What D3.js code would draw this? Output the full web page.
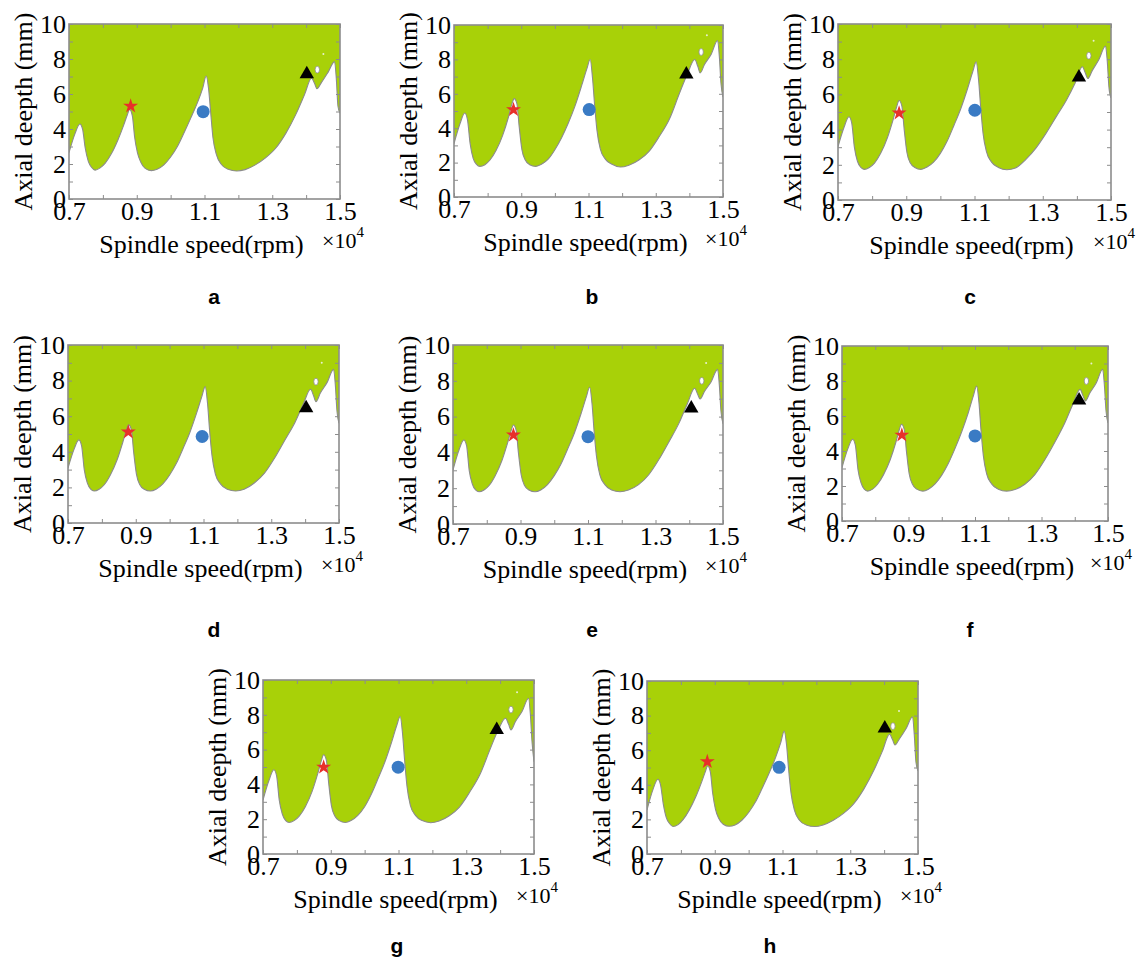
<!DOCTYPE html>
<html>
<head>
<meta charset="utf-8">
<script src="https://cdn.jsdelivr.net/npm/d3@7"></script>
<style>
body { margin: 0; background: #fff; }
</style>
</head>
<body>
<svg id="chart" width="1147" height="964"></svg>
<script>
// Spindle speed grid (x 10^4 rpm), shared by all panels
var speed = [0.700, 0.718, 0.732, 0.740, 0.748, 0.757, 0.767, 0.777, 0.792, 0.807,
             0.825, 0.845, 0.862, 0.872, 0.879, 0.887, 0.894, 0.902, 0.912, 0.925,
             0.943, 0.960, 0.980, 1.000, 1.020, 1.040, 1.060, 1.080, 1.095, 1.105,
             1.112, 1.118, 1.125, 1.135, 1.150, 1.170, 1.195, 1.220, 1.250, 1.280,
             1.310, 1.340, 1.370, 1.395, 1.416, 1.425, 1.432, 1.445, 1.465, 1.484,
             1.489, 1.494, 1.500];

// Stability limit (axial depth, mm)
var depthA = [2.65, 3.75, 4.29, 4.0, 2.9, 2.15, 1.8, 1.65, 1.78, 2.05, 2.58, 3.4, 4.25, 4.8, 5.12, 4.75, 3.5, 2.65, 2.1, 1.75, 1.62, 1.7, 1.95, 2.4, 3.0, 3.8, 4.65, 5.55, 6.35, 7.03, 6.3, 5.0, 3.5, 2.55, 1.97, 1.7, 1.6, 1.68, 1.95, 2.35, 2.9, 3.75, 4.85, 5.95, 6.9, 6.6, 6.3, 6.65, 7.25, 7.85, 6.9, 5.3, 4.9];
var depthB = [3.1, 4.27, 4.88, 4.5, 3.1, 2.25, 1.9, 1.78, 1.88, 2.15, 2.7, 3.6, 4.65, 5.4, 5.72, 5.43, 4.07, 2.75, 2.15, 1.88, 1.78, 1.9, 2.2, 2.75, 3.45, 4.3, 5.3, 6.5, 7.45, 7.99, 6.9, 5.4, 3.9, 2.8, 2.2, 1.9, 1.74, 1.85, 2.15, 2.65, 3.5, 4.5, 6.0, 7.2, 7.99, 7.6, 7.21, 7.7, 8.3, 9.1, 8.2, 6.6, 5.8];
var depthC = [3.03, 4.15, 4.73, 4.4, 3.0, 2.2, 1.85, 1.74, 1.85, 2.1, 2.65, 3.55, 4.6, 5.3, 5.65, 5.35, 4.0, 2.7, 2.1, 1.85, 1.74, 1.86, 2.15, 2.65, 3.35, 4.25, 5.2, 6.35, 7.3, 7.85, 6.8, 5.3, 3.8, 2.75, 2.15, 1.85, 1.72, 1.82, 2.3, 2.95, 3.8, 4.75, 5.7, 6.65, 7.57, 7.2, 6.9, 7.35, 8.0, 8.75, 7.9, 6.4, 5.8];
var depthD = [3.08, 4.15, 4.67, 4.35, 3.0, 2.25, 1.9, 1.8, 1.9, 2.15, 2.7, 3.55, 4.55, 5.2, 5.51, 5.25, 3.95, 2.75, 2.15, 1.9, 1.8, 1.9, 2.2, 2.7, 3.35, 4.2, 5.1, 6.2, 7.1, 7.66, 6.7, 5.2, 3.8, 2.75, 2.2, 1.9, 1.8, 1.9, 2.25, 2.8, 3.65, 4.65, 5.65, 6.7, 7.51, 7.15, 6.82, 7.3, 7.9, 8.63, 7.8, 6.3, 5.6];
var depthE = [3.02, 4.15, 4.69, 4.4, 3.0, 2.25, 1.9, 1.8, 1.9, 2.15, 2.7, 3.55, 4.55, 5.2, 5.53, 5.25, 3.95, 2.75, 2.15, 1.9, 1.8, 1.9, 2.2, 2.7, 3.35, 4.2, 5.1, 6.2, 7.1, 7.64, 6.7, 5.2, 3.8, 2.75, 2.2, 1.9, 1.8, 1.9, 2.2, 2.75, 3.6, 4.6, 5.65, 6.75, 7.58, 7.25, 6.98, 7.4, 7.95, 8.64, 7.8, 6.3, 5.6];
var depthF = [3.05, 4.15, 4.67, 4.35, 2.95, 2.2, 1.82, 1.71, 1.82, 2.1, 2.65, 3.5, 4.5, 5.2, 5.53, 5.25, 3.95, 2.7, 2.1, 1.82, 1.71, 1.82, 2.12, 2.62, 3.3, 4.15, 5.1, 6.2, 7.15, 7.71, 6.75, 5.2, 3.75, 2.7, 2.12, 1.82, 1.71, 1.8, 2.1, 2.65, 3.5, 4.5, 5.6, 6.7, 7.52, 7.15, 6.86, 7.3, 7.9, 8.67, 7.8, 6.3, 5.6];
var depthG = [3.1, 4.25, 4.84, 4.5, 3.1, 2.3, 1.92, 1.81, 1.92, 2.18, 2.72, 3.6, 4.65, 5.35, 5.70, 5.4, 4.05, 2.78, 2.18, 1.92, 1.81, 1.92, 2.22, 2.72, 3.45, 4.35, 5.3, 6.45, 7.4, 7.9, 6.9, 5.4, 3.9, 2.8, 2.22, 1.92, 1.8, 1.9, 2.2, 2.7, 3.55, 4.55, 6.0, 7.15, 7.8, 7.45, 7.13, 7.6, 8.2, 8.95, 8.1, 6.5, 5.3];
var depthH = [2.55, 3.75, 4.32, 4.0, 2.9, 2.1, 1.75, 1.59, 1.7, 2.0, 2.55, 3.35, 4.2, 4.75, 5.09, 4.75, 3.5, 2.6, 2.05, 1.72, 1.6, 1.68, 1.95, 2.4, 3.0, 3.8, 4.65, 5.6, 6.45, 7.1, 6.3, 4.9, 3.55, 2.55, 1.95, 1.68, 1.59, 1.68, 1.95, 2.35, 2.9, 3.75, 4.85, 5.95, 6.93, 6.6, 6.3, 6.65, 7.25, 7.93, 6.9, 5.3, 4.8];
var depths = [depthA, depthB, depthC, depthD, depthE, depthF, depthG, depthH];

var panelNames = ["a", "b", "c", "d", "e", "f", "g", "h"];

// small stable islands inside the unstable zone
var islandSpeed = [1.433, 1.435, 1.435, 1.432, 1.437, 1.435, 1.432, 1.426];
var islandDepth = [7.39, 8.43, 8.20, 7.94, 8.00, 8.00, 8.30, 7.39];
var dotSpeed = [1.451, 1.452, 1.449, 1.449, 1.450, 1.450, 1.450, 1.444];
var dotDepth = [8.29, 9.40, 9.05, 9.00, 9.00, 9.00, 9.30, 8.27];

// cutting test points
var starSpeed = [0.882, 0.877, 0.879, 0.878, 0.879, 0.880, 0.879, 0.878];
var starDepth = [5.31, 5.08, 4.94, 5.11, 4.97, 4.91, 4.99, 5.34];
var circleSpeed = [1.096, 1.102, 1.101, 1.096, 1.100, 1.100, 1.099, 1.090];
var circleDepth = [4.99, 5.08, 5.10, 4.86, 4.88, 4.86, 4.99, 5.01];
var triSpeed = [1.402, 1.391, 1.406, 1.403, 1.406, 1.413, 1.390, 1.402];
var triDepth = [7.14, 7.13, 6.97, 6.45, 6.46, 6.90, 7.13, 7.26];

var xLabels = [0.7, 0.9, 1.1, 1.3, 1.5];
var xMinor = [0.7, 0.8, 0.9, 1.0, 1.1, 1.2, 1.3, 1.4, 1.5];
var yLabels = [0, 2, 4, 6, 8, 10];
var yMinor = [0, 1, 2, 3, 4, 5, 6, 7, 8, 9, 10];

// plot boxes and letter positions
var layout = [
	{x: 69,  y: 24,  w: 271, h: 175, lx: 214, ly: 304},
	{x: 454, y: 25,  w: 269, h: 172, lx: 592, ly: 304},
	{x: 838, y: 24,  w: 273, h: 176, lx: 970, ly: 304},
	{x: 68,  y: 345, w: 271, h: 178, lx: 214, ly: 637},
	{x: 453, y: 345, w: 270, h: 179, lx: 592, ly: 637},
	{x: 842, y: 346, w: 266, h: 175, lx: 970, ly: 637},
	{x: 263, y: 680, w: 271, h: 174, lx: 397, ly: 953},
	{x: 647, y: 681, w: 271, h: 173, lx: 770, ly: 953}
];

var svg = d3.select("#chart");
var serif = "'Liberation Serif', 'Times New Roman', serif";
var green = "#a8d108";
var gray = "#8c8c8c";

layout.forEach(function(L, i) {
	var x = d3.scaleLinear().domain([0.7, 1.5]).range([L.x, L.x + L.w]);
	var y = d3.scaleLinear().domain([0, 10]).range([L.y + L.h, L.y]);
	var g = svg.append("g").attr("class", "panel");

	var pts = speed.map(function(s, k) { return [s, depths[i][k]]; });

	g.append("clipPath").attr("id", "clip" + i)
		.append("rect")
		.attr("x", L.x).attr("y", L.y).attr("width", L.w).attr("height", L.h);

	var plot = g.append("g").attr("clip-path", "url(#clip" + i + ")");

	// unstable zone above the lobes
	var area = d3.area()
		.x(function(d) { return x(d[0]); })
		.y0(y(10))
		.y1(function(d) { return y(d[1]); })
		.curve(d3.curveMonotoneX);
	plot.append("path").datum(pts).attr("d", area).attr("fill", green);

	var line = d3.line()
		.x(function(d) { return x(d[0]); })
		.y(function(d) { return y(d[1]); })
		.curve(d3.curveMonotoneX);
	plot.append("path").datum(pts).attr("d", line)
		.attr("fill", "none").attr("stroke", gray).attr("stroke-width", 1.1);

	plot.append("ellipse")
		.attr("cx", x(islandSpeed[i])).attr("cy", y(islandDepth[i]))
		.attr("rx", 2.2).attr("ry", 3.4)
		.attr("fill", "#fff").attr("stroke", gray).attr("stroke-width", 0.8);
	plot.append("circle")
		.attr("cx", x(dotSpeed[i])).attr("cy", y(dotDepth[i])).attr("r", 1)
		.attr("fill", "#e8f0d0");

	// ticks on all four sides, pointing inward
	var tickStyle = function(sel) {
		sel.select(".domain").remove();
		sel.selectAll("line").attr("stroke", gray).attr("stroke-width", 1);
	};
	g.append("g").attr("transform", "translate(0," + (L.y + L.h) + ")")
		.call(d3.axisBottom(x).tickValues(xMinor).tickSize(-4).tickFormat("")).call(tickStyle);
	g.append("g").attr("transform", "translate(0," + L.y + ")")
		.call(d3.axisTop(x).tickValues(xMinor).tickSize(-4).tickFormat("")).call(tickStyle);
	g.append("g").attr("transform", "translate(" + L.x + ",0)")
		.call(d3.axisLeft(y).tickValues(yMinor).tickSize(-4).tickFormat("")).call(tickStyle);
	g.append("g").attr("transform", "translate(" + (L.x + L.w) + ",0)")
		.call(d3.axisRight(y).tickValues(yMinor).tickSize(-4).tickFormat("")).call(tickStyle);

	g.append("rect")
		.attr("x", L.x).attr("y", L.y).attr("width", L.w).attr("height", L.h)
		.attr("fill", "none").attr("stroke", gray).attr("stroke-width", 1.6);

	// tick labels
	var xl = g.append("g").attr("transform", "translate(0," + (L.y + L.h) + ")")
		.call(d3.axisBottom(x).tickValues(xLabels).tickSize(0).tickPadding(3).tickFormat(d3.format(".1f")));
	xl.select(".domain").remove();
	xl.selectAll("text").style("font-family", serif).style("font-size", "26px").attr("fill", "#000");

	var yl = g.append("g").attr("transform", "translate(" + L.x + ",0)")
		.call(d3.axisLeft(y).tickValues(yLabels).tickSize(0).tickPadding(3));
	yl.select(".domain").remove();
	yl.selectAll("text").style("font-family", serif).style("font-size", "26px").attr("fill", "#000");

	// axis titles
	g.append("text")
		.attr("x", L.x + L.w / 2 - 3).attr("y", L.y + L.h + 54)
		.attr("text-anchor", "middle")
		.style("font-family", serif).style("font-size", "26px")
		.text("Spindle speed(rpm)");
	g.append("text")
		.attr("transform", "translate(" + (L.x - 37) + "," + (L.y + L.h / 2) + ") rotate(-90)")
		.attr("text-anchor", "middle")
		.style("font-family", serif).style("font-size", "26px")
		.text("Axial deepth (mm)");

	var mult = g.append("text")
		.attr("x", L.x + L.w - 18).attr("y", L.y + L.h + 49)
		.style("font-family", serif).style("font-size", "22px");
	mult.append("tspan").text("\u00d710");
	mult.append("tspan").attr("dy", -11).style("font-size", "15px").text("4");

	// markers
	g.append("path")
		.attr("transform", "translate(" + x(starSpeed[i]) + "," + y(starDepth[i]) + ")")
		.attr("d", d3.symbol().type(d3.symbolStar).size(70)())
		.attr("fill", "#e8302a");
	g.append("circle")
		.attr("cx", x(circleSpeed[i])).attr("cy", y(circleDepth[i])).attr("r", 6.5)
		.attr("fill", "#3a7bc4");
	g.append("path")
		.attr("transform", "translate(" + x(triSpeed[i]) + "," + y(triDepth[i]) + ")")
		.attr("d", d3.symbol().type(d3.symbolTriangle).size(90)())
		.attr("fill", "#000");

	// panel letter
	g.append("text")
		.attr("x", L.lx).attr("y", L.ly)
		.attr("text-anchor", "middle")
		.style("font-family", "'Liberation Sans', Arial, sans-serif")
		.style("font-weight", "bold").style("font-size", "21px")
		.text(panelNames[i]);
});
</script>
</body>
</html>
